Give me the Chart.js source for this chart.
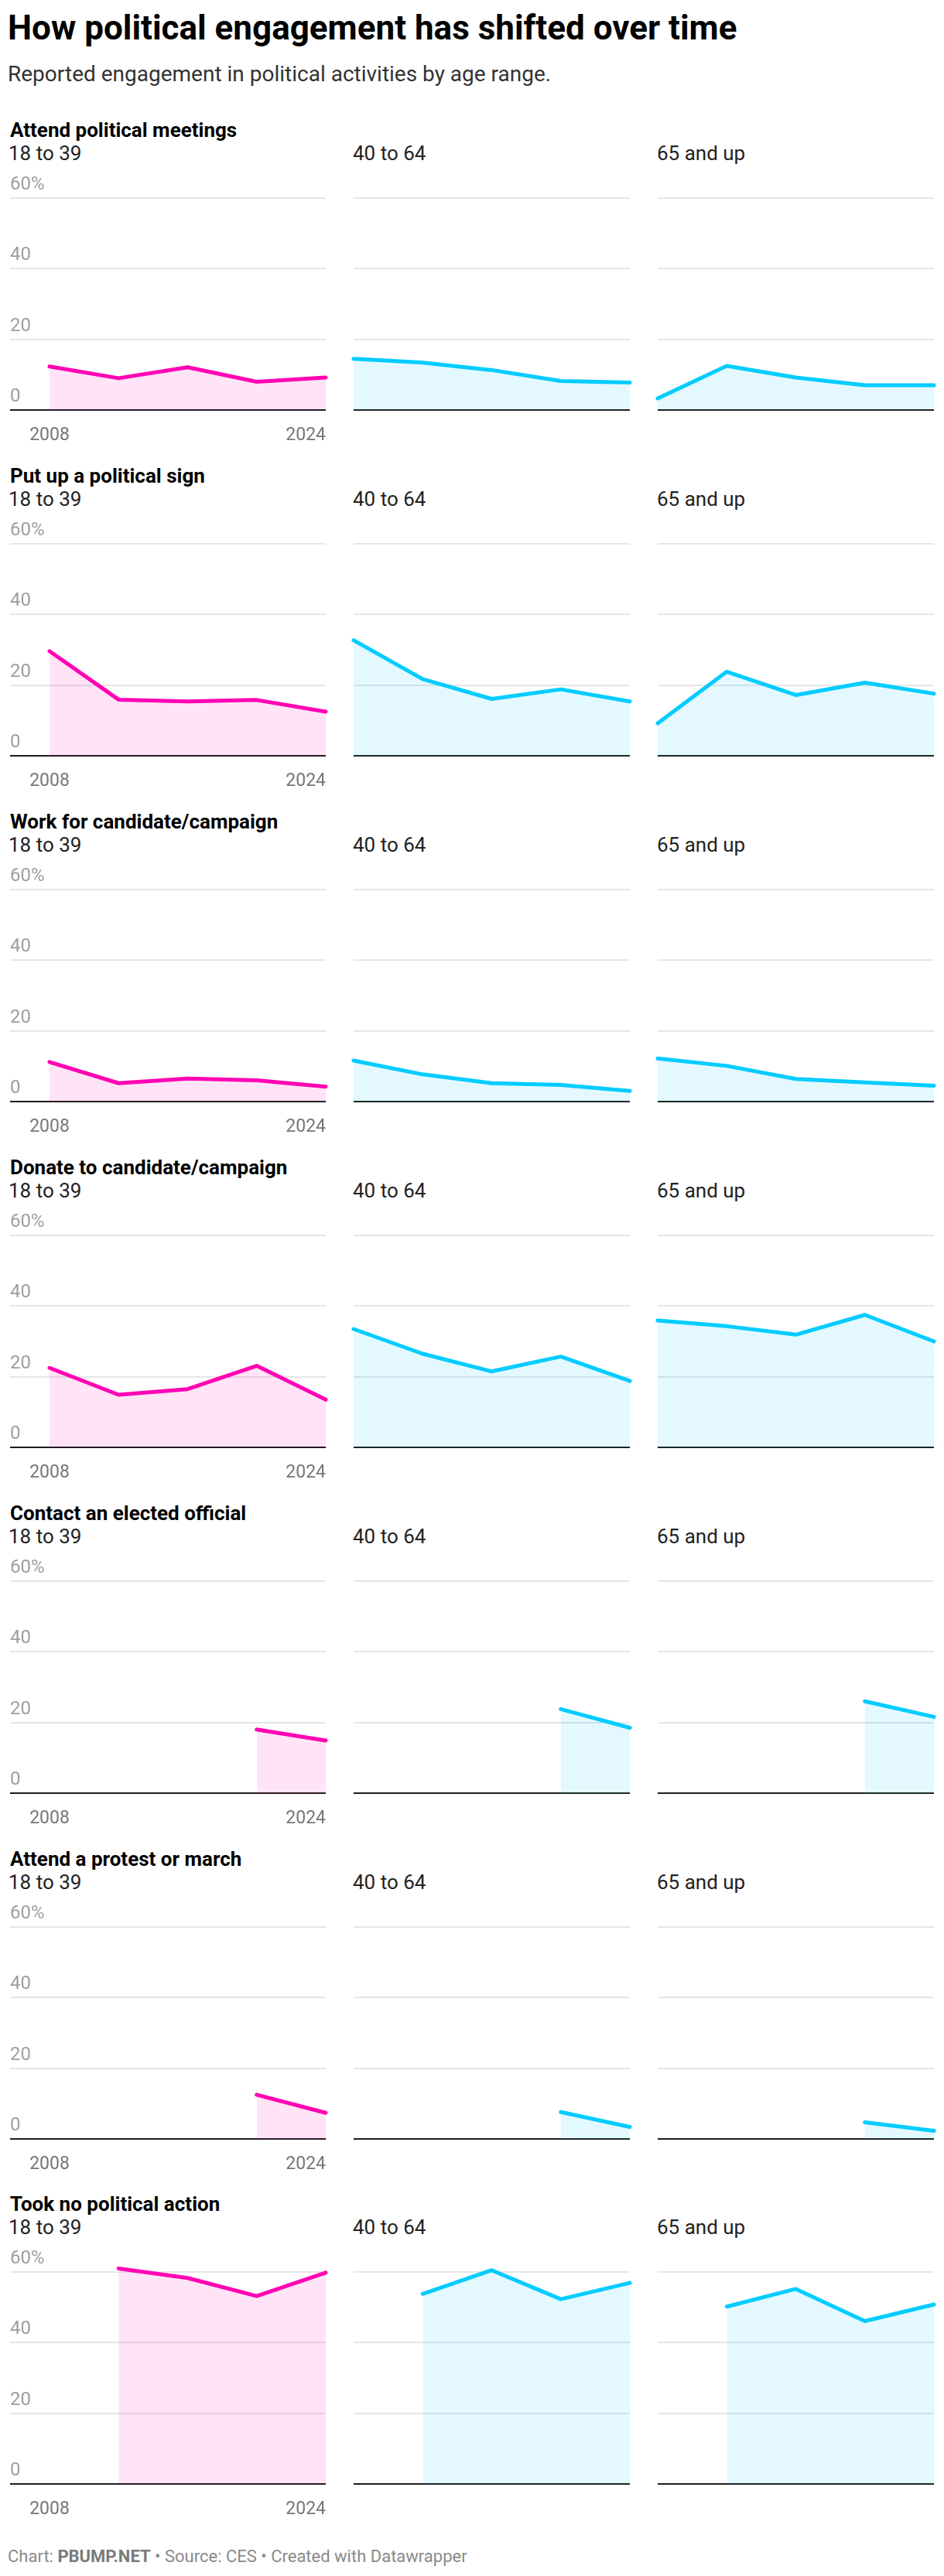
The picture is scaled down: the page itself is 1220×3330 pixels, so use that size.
<!DOCTYPE html>
<html>
<head>
<meta charset="utf-8">
<title>How political engagement has shifted over time</title>
<script src="https://cdn.jsdelivr.net/npm/chart.js@4.4.1/dist/chart.umd.min.js"></script>
<style>
  body { margin: 0; background: #fff; font-family: Roboto, sans-serif; }
  #page { position: relative; width: 1220px; height: 3330px; overflow: hidden; }
  .txt { position: absolute; left: 10px; line-height: 1; white-space: nowrap; }
  #title { top: 14px; font-size: 44px; font-weight: 700; color: #000; }
  #subtitle { top: 82px; font-size: 28px; color: #333; }
  .rowTitle { left: 13px; font-size: 26px; font-weight: 700; color: #000; }
  .ageLabel { font-size: 26px; color: #222; }
  #footer { top: 3294px; font-size: 22px; color: #8a8a8a; }
  #footer b { color: #7a7a7a; }
  canvas { position: absolute; }
</style>
</head>
<body>
<div id="page">
  <div id="title" class="txt">How political engagement has shifted over time</div>
  <div id="subtitle" class="txt">Reported engagement in political activities by age range.</div>
  <div id="footer" class="txt">Chart: <b>PBUMP.NET</b> • Source: CES • Created with Datawrapper</div>
</div>
<script>
const years = [2008, 2012, 2016, 2020, 2024];
const yTicks = [0, 20, 40, 60];
const ageGroups = ['18 to 39', '40 to 64', '65 and up'];
const activities = [
    'Attend political meetings',
    'Put up a political sign',
    'Work for candidate/campaign',
    'Donate to candidate/campaign',
    'Contact an elected official',
    'Attend a protest or march',
    'Took no political action'
];

// percent reporting each activity, one line per age group (18-39, 40-64, 65+)
const meetings = [
    [12.3, 9.0, 12.1, 8.0, 9.2],
    [14.5, 13.4, 11.3, 8.2, 7.8],
    [3.3, 12.5, 9.2, 7.0, 7.0]
];
const sign = [
    [29.6, 15.9, 15.4, 15.8, 12.5],
    [32.7, 21.7, 16.1, 18.8, 15.4],
    [9.2, 23.8, 17.2, 20.7, 17.6]
];
const work = [
    [11.2, 5.2, 6.5, 6.0, 4.2],
    [11.6, 7.7, 5.2, 4.7, 3.0],
    [12.2, 10.1, 6.4, 5.4, 4.5]
];
const donate = [
    [22.5, 14.9, 16.5, 23.1, 13.5],
    [33.5, 26.5, 21.5, 25.7, 18.8],
    [35.9, 34.3, 31.9, 37.5, 30.0]
];
const contact = [
    [null, null, null, 18.0, 14.9],
    [null, null, null, 23.8, 18.5],
    [null, null, null, 26.0, 21.6]
];
const protest = [
    [null, null, null, 12.5, 7.4],
    [null, null, null, 7.6, 3.4],
    [null, null, null, 4.7, 2.3]
];
const noAction = [
    [null, 61.0, 58.3, 53.2, 59.8],
    [null, 53.8, 60.5, 52.3, 56.9],
    [null, 50.2, 55.2, 46.1, 50.8]
];
const rows = [meetings, sign, work, donate, contact, protest, noAction];

const PINK = '#ff00b4';
const PINK_FILL = 'rgba(255, 0, 180, 0.11)';
const CYAN = '#00ccff';
const CYAN_FILL = 'rgba(0, 204, 255, 0.11)';

// layout (px)
const GRID_TOP = 256;      // 60% gridline of the first row
const ROW_STEP = 446.9;
const PLOT_H = 274;
const PLOT_W = 357;
const LABEL_W = 51;        // room for the y labels in the first column
const colLeft = [13, 457, 850];

const page = document.getElementById('page');
Chart.defaults.font.family = 'Roboto';

function addText(cls, text, left, top) {
    const div = document.createElement('div');
    div.className = 'txt ' + cls;
    div.textContent = text;
    div.style.left = left + 'px';
    div.style.top = top + 'px';
    page.appendChild(div);
}

function makePanel(row, col) {
    const first = col === 0;
    const padL = first ? 0 : 4;
    const padR = 4;
    const padTop = 30;
    const axisH = 42;
    const areaW = first ? PLOT_W + LABEL_W : PLOT_W;
    const top = Math.round(GRID_TOP + row * ROW_STEP);

    const canvas = document.createElement('canvas');
    canvas.width = areaW + padL + padR;
    canvas.height = padTop + PLOT_H + axisH;
    canvas.style.left = (colLeft[col] - padL) + 'px';
    canvas.style.top = (top - padTop) + 'px';
    page.appendChild(canvas);

    const values = rows[row][col];
    const points = [];
    years.forEach((yr, i) => {
        if (values[i] !== null) points.push({ x: yr, y: values[i] });
    });

    const span = years[years.length - 1] - years[0];
    const xMin = first ? years[0] - span * LABEL_W / PLOT_W : years[0];
    const xMax = years[years.length - 1];

    new Chart(canvas, {
        type: 'line',
        data: {
            datasets: [{
                data: points,
                borderColor: first ? PINK : CYAN,
                backgroundColor: first ? PINK_FILL : CYAN_FILL,
                borderWidth: 5,
                fill: 'origin',
                pointRadius: 0,
                tension: 0,
                borderCapStyle: 'round',
                borderJoinStyle: 'round',
                clip: false
            }]
        },
        options: {
            responsive: false,
            animation: false,
            events: [],
            layout: { padding: { top: padTop, left: padL, right: padR, bottom: 0 } },
            plugins: { legend: { display: false }, tooltip: { enabled: false } },
            scales: {
                x: {
                    type: 'linear',
                    min: xMin,
                    max: xMax,
                    grid: { display: false },
                    border: { display: false },
                    // an empty first tick keeps 2008 centred and 2024 flush right
                    afterBuildTicks: s => { s.ticks = [{ value: xMin }, { value: years[0] }, { value: xMax }]; },
                    afterFit: s => {
                        s.height = axisH;
                        s.paddingLeft = 0;
                        s.paddingRight = 0;
                    },
                    ticks: {
                        display: first,
                        align: 'inner',
                        maxRotation: 0,
                        autoSkip: false,
                        padding: 11,
                        color: '#767676',
                        font: { size: 23 },
                        callback: v => v === xMin ? '' : String(v)
                    }
                },
                y: {
                    min: 0,
                    max: 60,
                    afterBuildTicks: s => { s.ticks = yTicks.map(v => ({ value: v })); },
                    afterFit: s => { s.width = 0; },
                    border: { display: false },
                    grid: {
                        drawTicks: false,
                        color: c => c.tick && c.tick.value === 0 ? '#1c1c1c' : '#e6e6e6',
                        lineWidth: 2
                    },
                    ticks: {
                        display: first,
                        mirror: true,
                        padding: 0,
                        labelOffset: -17,
                        color: '#9e9e9e',
                        font: { size: 24 },
                        callback: v => v === 60 ? '60%' : String(v)
                    }
                }
            }
        }
    });
}

activities.forEach((name, row) => {
    const top = GRID_TOP + row * ROW_STEP;
    addText('rowTitle', name, 13, Math.round(top - 100.9));
    ageGroups.forEach((age, col) => {
        addText('ageLabel', age, col === 0 ? 11 : colLeft[col] - 1, Math.round(top - 70.9));
        makePanel(row, col);
    });
});
</script>
</body>
</html>
